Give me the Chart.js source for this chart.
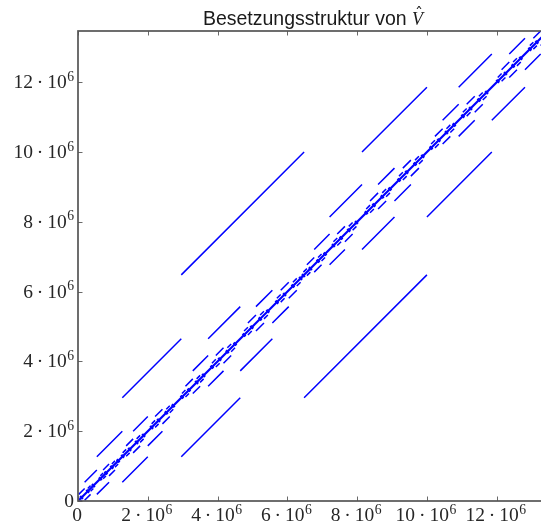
<!DOCTYPE html>
<html><head><meta charset="utf-8">
<script src="https://cdn.jsdelivr.net/npm/chart.js@4.4.1/dist/chart.umd.min.js"></script>
<style>
html,body{margin:0;padding:0;overflow:hidden;background:#fff;width:541px;height:525px;}
#wrap{position:absolute;left:0;top:0;width:556px;height:525px;}
</style></head><body>
<div id="wrap"><canvas id="c"></canvas></div>
<script>
// ---- data (units of 10^6) ----
const M = 1e6;
const matrixSize = 13.47;
const xTickValues = [0, 2, 4, 6, 8, 10, 12];
const yTickValues = [0, 2, 4, 6, 8, 10, 12];
const tickExponent = '6';
const titleText = 'Besetzungsstruktur von ';
const titleSymbol = 'V';
const titleAccent = '\u02C6';

// off-diagonal bands: centre on the diagonal and half length of each band
const level1Centers = [6.48];
const level1Half    = [3.52];
const level2Centers = [2.96, 10.00];
const level2Half    = [1.69, 1.86];
const level3Centers = [1.27, 4.65, 8.14, 11.86];
const level3Half    = [0.73, 0.92, 0.93, 0.95];
const level4Centers = [0.54, 2.00, 3.73, 5.57, 7.21, 9.07, 10.91, 12.81];
const level4Half    = [0.35, 0.42, 0.44, 0.47, 0.44, 0.47, 0.46, 0.45];
const level5Centers = [0.19, 0.89, 1.58, 2.42, 3.29, 4.17, 5.10, 6.04,
                       6.77, 7.65, 8.60, 9.54, 10.45, 11.37, 12.36, 13.26];
const level5Half    = [0.17, 0.17, 0.20, 0.21, 0.21, 0.22, 0.23, 0.23,
                       0.21, 0.22, 0.23, 0.23, 0.22, 0.23, 0.22, 0.21];
const level6Centers = [0.02, 0.36, 0.72, 1.06, 1.38, 1.78, 2.21, 2.63,
                       3.08, 3.50, 3.95, 4.39, 4.87, 5.33, 5.81, 6.27,
                       6.56, 6.98, 7.43, 7.87, 8.37, 8.83, 9.31, 9.77,
                       10.23, 10.67, 11.14, 11.60, 12.14, 12.58, 13.05, 13.47];
const level6Half    = [0.08, 0.08, 0.08, 0.09, 0.10, 0.10, 0.10, 0.10,
                       0.10, 0.10, 0.11, 0.11, 0.11, 0.11, 0.11, 0.11,
                       0.10, 0.10, 0.11, 0.11, 0.11, 0.11, 0.11, 0.11,
                       0.11, 0.11, 0.11, 0.11, 0.11, 0.11, 0.10, 0.10];
const level7Centers = [0.10, 0.28, 0.44, 0.64, 0.80, 0.97, 1.15, 1.28, 1.48,
                       1.68, 1.88, 2.11, 2.31, 2.53, 2.73, 2.98, 3.18, 3.40, 3.60,
                       3.84, 4.06, 4.28, 4.50, 4.76, 4.98, 5.22, 5.44, 5.70, 5.92,
                       6.16, 6.38, 6.46, 6.66, 6.88, 7.08, 7.32, 7.54, 7.76, 7.98,
                       8.26, 8.48, 8.72, 8.94, 9.20, 9.42, 9.66, 9.88, 10.12, 10.34,
                       10.56, 10.78, 11.03, 11.25, 11.49, 11.71, 12.03, 12.25, 12.47,
                       12.69, 12.95, 13.15, 13.37];
const level7HalfLength = 0.05;

const levels = [
  [level1Centers, level1Half], [level2Centers, level2Half],
  [level3Centers, level3Half], [level4Centers, level4Half],
  [level5Centers, level5Half], [level6Centers, level6Half],
  [level7Centers, level7Centers.map(() => level7HalfLength)]
];

// build segment list (null point = break)
const bandPoints = [];
levels.forEach(([cs, hs]) => {
  cs.forEach((p, i) => {
    const L = hs[i];
    bandPoints.push({x: (p - L) * M, y: p * M}, {x: p * M, y: (p + L) * M}, {x: p * M, y: null});
    bandPoints.push({x: p * M, y: (p - L) * M}, {x: (p + L) * M, y: p * M}, {x: p * M, y: null});
  });
});
const diagPoints = [{x: 0, y: 0}, {x: matrixSize * M, y: matrixSize * M}];

// ---- drawing helpers ----
const labelFont = '"Liberation Serif", "DejaVu Serif", serif';
const labelSize = 19.5;
function drawSci(ctx, mant, ax, yBase, align) {
  ctx.fillStyle = '#262626';
  ctx.textBaseline = 'alphabetic';
  ctx.textAlign = 'left';
  ctx.font = labelSize + 'px ' + labelFont;
  if (mant === 0) {
    const w = ctx.measureText('0').width;
    const sx = align === 'right' ? ax - w : ax - w / 2;
    ctx.fillText('0', sx, yBase);
    return;
  }
  const ms = String(mant);
  const wm = ctx.measureText(ms).width;
  const wd = ctx.measureText('\u00B7').width;
  const w10 = ctx.measureText('10').width;
  const gap = 0.2 * labelSize;
  const supSize = labelSize * 0.7;
  ctx.font = supSize + 'px ' + labelFont;
  const ws = ctx.measureText(tickExponent).width;
  const total = wm + gap + wd + gap + w10 + ws + 0.5;
  let sx = align === 'right' ? ax - total : ax - total / 2;
  ctx.font = labelSize + 'px ' + labelFont;
  ctx.fillText(ms, sx, yBase); sx += wm + gap;
  ctx.fillText('\u00B7', sx, yBase); sx += wd + gap;
  ctx.fillText('10', sx, yBase); sx += w10 + 0.5;
  ctx.font = supSize + 'px ' + labelFont;
  ctx.fillText(tickExponent, sx, yBase - 0.38 * labelSize);
}

const decor = {
  id: 'decor',
  afterDraw(chart) {
    const {ctx, chartArea: a, scales: {x, y}} = chart;
    ctx.save();
    // inner tick marks
    ctx.strokeStyle = '#6a6a6a';
    ctx.lineWidth = 1;
    xTickValues.forEach(v => {
      const px = Math.round(x.getPixelForValue(v * M)) + 0.5;
      ctx.beginPath();
      ctx.moveTo(px, a.bottom); ctx.lineTo(px, a.bottom - 4.5);
      ctx.moveTo(px, a.top); ctx.lineTo(px, a.top + 4.5);
      ctx.stroke();
    });
    yTickValues.forEach(v => {
      const py = Math.round(y.getPixelForValue(v * M)) + 0.5;
      ctx.beginPath();
      ctx.moveTo(a.left, py); ctx.lineTo(a.left + 4.5, py);
      ctx.moveTo(a.right, py); ctx.lineTo(a.right - 4.5, py);
      ctx.stroke();
    });
    // frame
    ctx.strokeStyle = '#555';
    ctx.lineWidth = 1.7;
    ctx.strokeRect(a.left, a.top, a.right - a.left, a.bottom - a.top);
    // tick labels
    xTickValues.forEach(v => drawSci(ctx, v, x.getPixelForValue(v * M) - 1, a.bottom + 20, 'center'));
    yTickValues.forEach(v => drawSci(ctx, v, a.left - 4, y.getPixelForValue(v * M) + 6, 'right'));
    // title
    ctx.fillStyle = '#1a1a1a';
    ctx.textBaseline = 'alphabetic';
    ctx.textAlign = 'left';
    const tFont = '19.5px "Liberation Sans", Arial, sans-serif';
    const vFont = 'italic 18px "Liberation Serif", serif';
    ctx.font = tFont;
    const wt = ctx.measureText(titleText).width;
    ctx.font = vFont;
    const wv = ctx.measureText(titleSymbol).width;
    const cx = (a.left + a.right) / 2;
    let tx = cx - (wt + wv) / 2;
    const tb = 25;
    ctx.font = tFont;
    ctx.fillText(titleText, tx, tb);
    tx += wt;
    ctx.font = vFont;
    ctx.fillText(titleSymbol, tx, tb);
    ctx.font = '16px "DejaVu Sans", sans-serif';
    ctx.textAlign = 'center';
    ctx.fillText(titleAccent, tx + wv / 2 + 1.5, tb - 6);
    ctx.restore();
  }
};

new Chart(document.getElementById('c'), {
  type: 'scatter',
  data: {
    datasets: [
      {data: bandPoints, showLine: true, spanGaps: false, borderColor: '#0000ff',
       borderWidth: 1.5, pointRadius: 0, pointHoverRadius: 0, fill: false},
      {data: diagPoints, showLine: true, borderColor: '#0000ff',
       borderWidth: 2.2, pointRadius: 0, pointHoverRadius: 0, fill: false}
    ]
  },
  options: {
    responsive: true,
    maintainAspectRatio: false,
    animation: false,
    events: [],
    layout: {padding: {top: 31, right: 8, left: 0, bottom: 0}},
    plugins: {legend: {display: false}, tooltip: {enabled: false}, title: {display: false}},
    scales: {
      x: {type: 'linear', min: 0, max: matrixSize * M,
          ticks: {display: false}, grid: {display: false}, border: {display: false},
          afterFit: s => { s.height = 24; }},
      y: {type: 'linear', min: 0, max: matrixSize * M,
          ticks: {display: false}, grid: {display: false}, border: {display: false},
          afterFit: s => { s.width = 78; }}
    }
  },
  plugins: [decor]
});
</script>
</body></html>
